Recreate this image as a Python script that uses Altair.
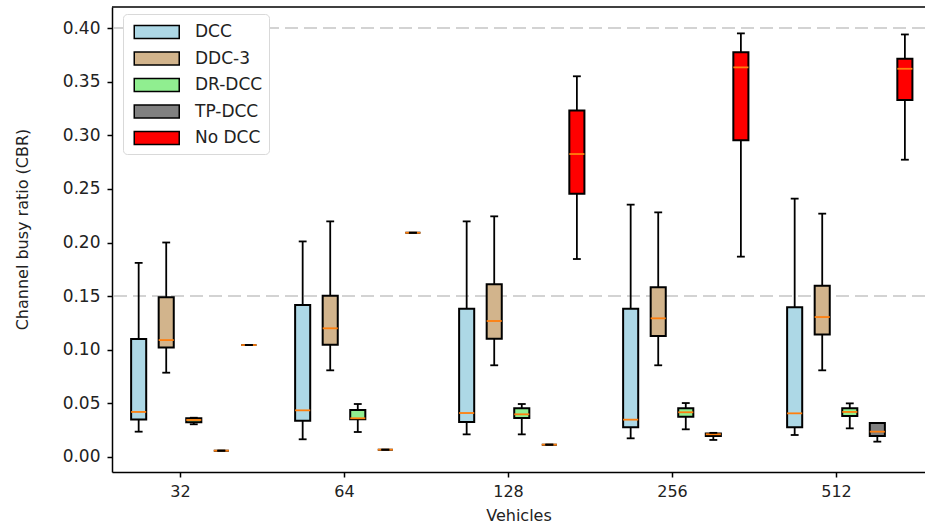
import json
import altair as alt
import pandas as pd

# ---------------- data ----------------
vehicles = ["32", "64", "128", "256", "512"]
series = ["DCC", "DDC-3", "DR-DCC", "TP-DCC", "No DCC"]
colors = ["#ADD8E6", "#D2B48C", "#90EE90", "#808080", "#FF0000"]

# whisker low, Q1, median, Q3, whisker high per vehicle count
dcc_lo = [0.0236, 0.0165, 0.0211, 0.0174, 0.0205]
dcc_q1 = [0.0350, 0.0339, 0.0326, 0.0277, 0.0277]
dcc_med = [0.0420, 0.0435, 0.0410, 0.0348, 0.0407]
dcc_q3 = [0.1100, 0.1417, 0.1383, 0.1383, 0.1396]
dcc_hi = [0.1810, 0.2010, 0.2197, 0.2353, 0.2409]

ddc3_lo = [0.0786, 0.0808, 0.0855, 0.0855, 0.0808]
ddc3_q1 = [0.1020, 0.1047, 0.1103, 0.1128, 0.1141]
ddc3_med = [0.1090, 0.1200, 0.1268, 0.1293, 0.1305]
ddc3_q3 = [0.1490, 0.1504, 0.1610, 0.1582, 0.1597]
ddc3_hi = [0.2000, 0.2197, 0.2244, 0.2281, 0.2269]

drdcc_lo = [0.0305, 0.0233, 0.0211, 0.0258, 0.0267]
drdcc_q1 = [0.0324, 0.0351, 0.0364, 0.0376, 0.0382]
drdcc_med = [0.0345, 0.0361, 0.0398, 0.0417, 0.0420]
drdcc_q3 = [0.0361, 0.0438, 0.0454, 0.0454, 0.0454]
drdcc_hi = [0.0366, 0.0494, 0.0494, 0.0503, 0.0500]

tpdcc_lo = [0.0059, 0.0068, 0.0115, 0.0159, 0.0143]
tpdcc_q1 = [0.0059, 0.0068, 0.0115, 0.0195, 0.0196]
tpdcc_med = [0.0059, 0.0068, 0.0115, 0.0212, 0.0236]
tpdcc_q3 = [0.0059, 0.0068, 0.0115, 0.0220, 0.0317]
tpdcc_hi = [0.0059, 0.0068, 0.0115, 0.0225, 0.0317]

nodcc_lo = [0.1044, 0.2091, 0.1846, 0.1868, 0.2772]
nodcc_q1 = [0.1044, 0.2091, 0.2455, 0.2953, 0.3329]
nodcc_med = [0.1044, 0.2091, 0.2825, 0.3633, 0.3620]
nodcc_q3 = [0.1044, 0.2091, 0.3232, 0.3773, 0.3714]
nodcc_hi = [0.1044, 0.2091, 0.3550, 0.3950, 0.3940]

ref_lines = [0.15, 0.40]
y_ticks = [0.00, 0.05, 0.10, 0.15, 0.20, 0.25, 0.30, 0.35, 0.40]

stats = {
    "DCC": (dcc_lo, dcc_q1, dcc_med, dcc_q3, dcc_hi),
    "DDC-3": (ddc3_lo, ddc3_q1, ddc3_med, ddc3_q3, ddc3_hi),
    "DR-DCC": (drdcc_lo, drdcc_q1, drdcc_med, drdcc_q3, drdcc_hi),
    "TP-DCC": (tpdcc_lo, tpdcc_q1, tpdcc_med, tpdcc_q3, tpdcc_hi),
    "No DCC": (nodcc_lo, nodcc_q1, nodcc_med, nodcc_q3, nodcc_hi),
}

rows = []
for si, s in enumerate(series):
    lo, q1, med, q3, hi = stats[s]
    for gi, v in enumerate(vehicles):
        rows.append(dict(vehicles=v, gi=gi, series=s, si=si,
                         lo=lo[gi], q1=q1[gi], med=med[gi], q3=q3[gi], hi=hi[gi]))
df = pd.DataFrame(rows)

# ---------------- layout ----------------
W, H = 813, 465
STEP = 0.168      # spacing between boxes inside a group (group units)
HALF = 0.046      # half box width
CAP = 0.024       # half cap width

xscale = alt.Scale(domain=[-0.4146, 4.5427], nice=False, zero=False)
yscale = alt.Scale(domain=[-0.014, 0.4196], nice=False, zero=False)

xaxis = alt.Axis(values=list(range(len(vehicles))),
                 labelExpr=f"{json.dumps(vehicles)}[datum.value]",
                 title="Vehicles", grid=False, labelPadding=6,
                 titleY=43, titleBaseline="middle")
yaxis = alt.Axis(values=y_ticks, format=".2f", title="Channel busy ratio (CBR)",
                 grid=False, labelPadding=7, labelFontSize=17,
                 titleX=-90, titleY=222, titleBaseline="middle")


def X(f):
    return alt.X(f, type="quantitative", scale=xscale, axis=xaxis)


def Y(f):
    return alt.Y(f, type="quantitative", scale=yscale, axis=yaxis)


base = alt.Chart(df).transform_calculate(
    pos=f"datum.gi + (datum.si - 1.5) * {STEP}"
).transform_calculate(
    bx1=f"datum.pos - {HALF}",
    bx2=f"datum.pos + {HALF}",
    c1=f"datum.pos - {CAP}",
    c2=f"datum.pos + {CAP}",
)

refs = alt.Chart(pd.DataFrame({"y": ref_lines})).mark_rule(
    color="#d3d3d3", strokeDash=[13, 6], strokeWidth=2
).encode(y=Y("y"))

whisk = base.mark_rule(color="black", strokeWidth=1.8).encode(
    x=X("pos"), y=Y("lo"), y2="hi:Q")

legend = alt.Legend(
    title=None, orient="none", legendX=11, legendY=7,
    symbolType="M-0.6,-0.58L3.4,-0.58L3.4,0.58L-0.6,0.58Z", symbolSize=506,
    symbolStrokeColor="black", symbolStrokeWidth=1.5, symbolOpacity=1,
    labelFont="DejaVu Sans", labelFontSize=17, labelColor="#222222",
    labelExpr="datum.label + '\u2003\u2003'",
    labelOffset=42, rowPadding=4.5, padding=6,
    fillColor="white", strokeColor="#d9d9d9", cornerRadius=4,
)

boxes = base.mark_rect(stroke="black", strokeWidth=2, opacity=1).encode(
    x=X("bx1"), x2="bx2:Q", y=Y("q1"), y2="q3:Q",
    color=alt.Color("series:N", scale=alt.Scale(domain=series, range=colors),
                    sort=series, legend=legend),
)

medians = base.mark_rule(color="#FF7F0E", strokeWidth=1.8).encode(
    x=X("bx1"), x2="bx2:Q", y=Y("med"))

cap_lo = base.mark_rule(color="black", strokeWidth=1.8).encode(
    x=X("c1"), x2="c2:Q", y=Y("lo"))
cap_hi = base.mark_rule(color="black", strokeWidth=1.8).encode(
    x=X("c1"), x2="c2:Q", y=Y("hi"))

frame_top = alt.Chart(pd.DataFrame({"k": [0]})).mark_rule(
    color="black", strokeWidth=1.5
).encode(x=alt.value(0), x2=alt.value(W), y=alt.value(0))

chart = alt.layer(refs, whisk, boxes, medians, cap_lo, cap_hi, frame_top).properties(
    width=W, height=H,
    autosize=alt.AutoSizeParams(type="none"),
    padding={"left": 112, "top": 7, "right": 0, "bottom": 60},
).configure_view(stroke=None).configure_axis(
    domainColor="black", domainWidth=1.5, tickColor="black", tickWidth=1.5,
    tickSize=5, labelFont="DejaVu Sans", labelFontSize=16, labelColor="#222222",
    titleFont="DejaVu Sans", titleFontSize=16, titleColor="#222222",
    titleFontWeight="normal",
)

chart.save("out.html", embed_options={"renderer": "svg", "actions": False})
